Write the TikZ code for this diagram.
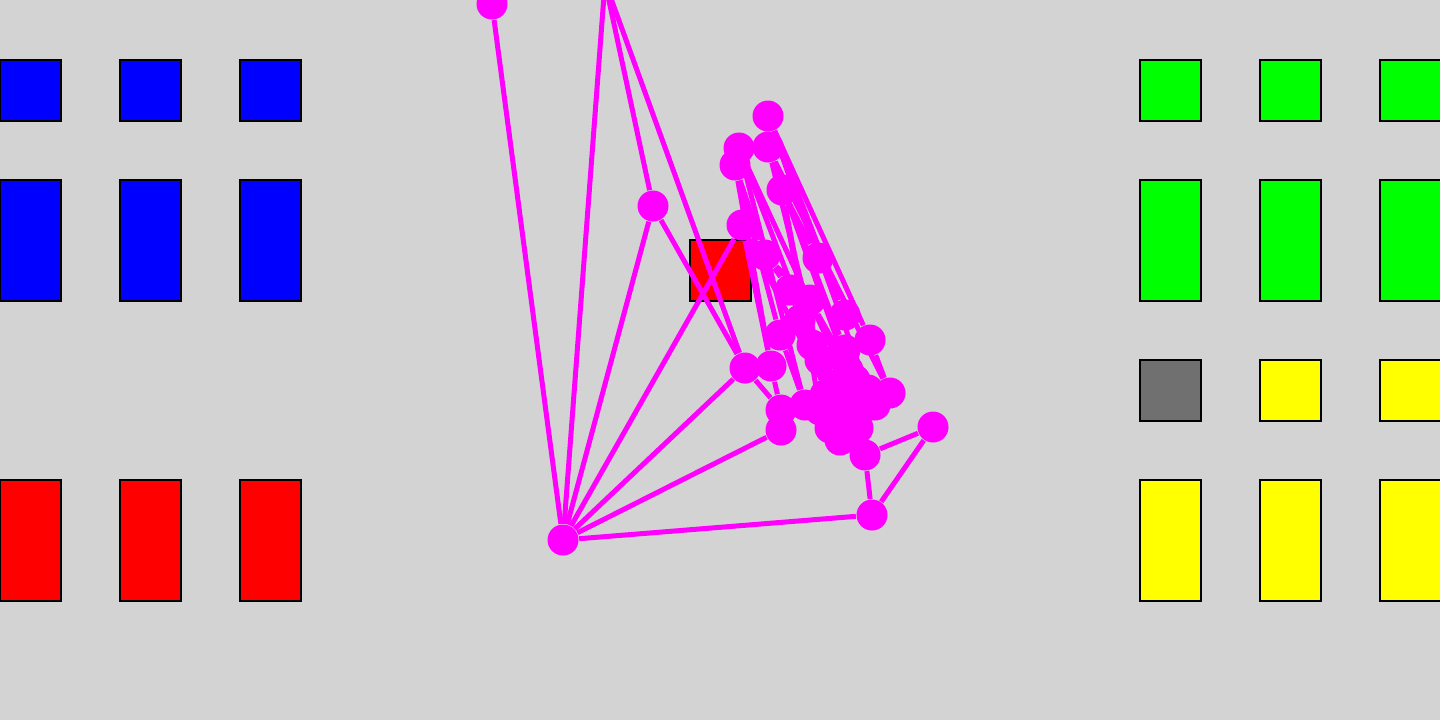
\documentclass[tikz,border=0pt]{standalone}
\usetikzlibrary{positioning}
\definecolor{floor}{RGB}{211,211,211}
\definecolor{vertex}{RGB}{255,0,255}
\definecolor{idle}{RGB}{112,112,112}
\definecolor{amber}{RGB}{255,255,0}

\begin{document}
\begin{tikzpicture}[x=0.01cm, y=-0.01cm,
  panel/.style={draw=black, line width=0.025cm},
  dot/.style={circle, fill=vertex, inner sep=0pt, minimum size=0.31cm},
  link/.style={draw=vertex, line width=0.05cm}]
  \clip (0,0) rectangle (1440,720);
  \fill[floor] (0,0) rectangle (1440,720);

  % left side panels
  \foreach \x in {0,120,240} {
    \draw[panel, fill=blue] (\x,60) rectangle ++(61,61);
    \draw[panel, fill=blue] (\x,180) rectangle ++(61,121);
    \draw[panel, fill=red] (\x,480) rectangle ++(61,121);
  }
  % right side panels
  \foreach \x in {1140,1260,1380} {
    \draw[panel, fill=green] (\x,60) rectangle ++(61,61);
    \draw[panel, fill=green] (\x,180) rectangle ++(61,121);
    \draw[panel, fill=amber] (\x,480) rectangle ++(61,121);
  }
  \draw[panel, fill=idle] (1140,360) rectangle ++(61,61);
  \draw[panel, fill=amber] (1260,360) rectangle ++(61,61);
  \draw[panel, fill=amber] (1380,360) rectangle ++(61,61);
  \draw[panel, fill=red] (690,240) rectangle ++(61,61);

  % graph vertices
  \node[dot] (hub) at (563,540) {};
  \node[dot] (n1) at (492,4) {};
  \node[dot] (n2) at (605,-18) {};
  \node[dot] (n3) at (653,206) {};
  \node[dot] (n5) at (872,515) {};
  \node[dot] (n6) at (933,427) {};
  \node[dot] (n7) at (745,368) {};
  \node[dot] (n8) at (771,366) {};
  \node[dot] (n9) at (781,430) {};
  \node[dot] (n10) at (781,410) {};
  \node[dot] (a1) at (768,116) {};
  \node[dot] (a2) at (739,148) {};
  \node[dot] (a3) at (735,165) {};
  \node[dot] (a4) at (768,147) {};
  \node[dot] (a5) at (742,225) {};
  \node[dot] (a6) at (782,190) {};
  \node[dot] (a7) at (765,255) {};
  \node[dot] (a8) at (818,258) {};
  \node[dot] (c1) at (790,290) {};
  \node[dot] (c2) at (810,300) {};
  \node[dot] (c3) at (780,335) {};
  \node[dot] (c4) at (800,320) {};
  \node[dot] (c5) at (845,315) {};
  \node[dot] (c6) at (820,360) {};
  \node[dot] (c7) at (845,350) {};
  \node[dot] (c8) at (870,340) {};
  \node[dot] (c9) at (890,393) {};
  \node[dot] (c10) at (855,380) {};
  \node[dot] (c11) at (835,385) {};
  \node[dot] (c12) at (805,405) {};
  \node[dot] (c13) at (820,410) {};
  \node[dot] (c14) at (845,400) {};
  \node[dot] (c15) at (860,410) {};
  \node[dot] (c16) at (875,405) {};
  \node[dot] (c17) at (850,435) {};
  \node[dot] (c18) at (840,440) {};
  \node[dot] (c19) at (865,455) {};
  \node[dot] (c20) at (825,395) {};
  \node[dot] (c21) at (840,418) {};
  \node[dot] (c22) at (858,428) {};
  \node[dot] (c23) at (830,428) {};
  \node[dot] (c24) at (812,345) {};
  \node[dot] (c25) at (848,370) {};
  \node[dot] (c26) at (868,390) {};

  % graph edges
  \foreach \u/\v in {hub/n1, hub/n2, hub/n3, hub/a5, hub/n7, hub/n9, hub/n5,
      n2/n3, n2/n7, n3/n7, n7/n10, n8/n10, n10/n9, n5/n6, n5/c19, n6/c19,
      a1/c8, a1/c5, a1/a8, a4/c9, a4/c7, a4/a6, a4/c18, a2/c6, a2/c12,
      a2/c15, a3/a7, a3/n8, a3/c3, a6/c13, a6/a8, a5/n8, a5/c17,
      a7/c1, a7/c2, c1/c4, c2/c10, c4/c11, c3/c12, c6/c14, c8/c9,
      c10/c16, c11/c13, c14/c17, c15/c19, c9/c16, a1/c26, a4/c25,
      a6/c24, c24/c20, c25/c22, c23/c18, c21/c22}
    \draw[link] (\u) -- (\v);
\end{tikzpicture}
\end{document}
